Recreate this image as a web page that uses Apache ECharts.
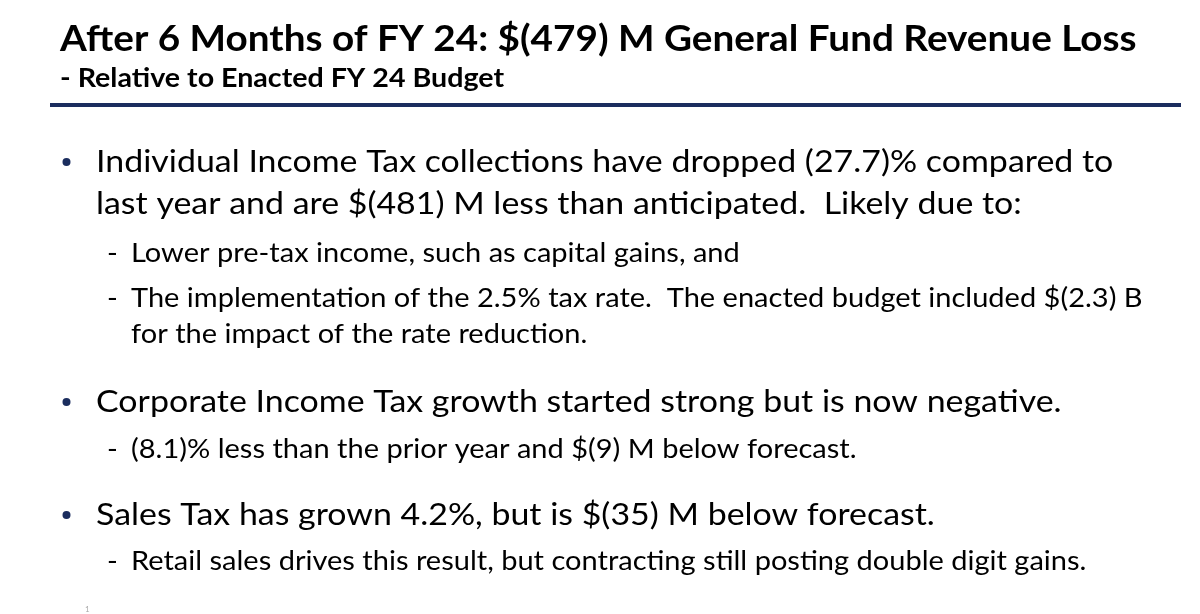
<!DOCTYPE html>
<html>
<head>
<meta charset="utf-8">
<script src="https://cdn.jsdelivr.net/npm/echarts@6/dist/echarts.min.js"></script>
<style>
html,body{margin:0;padding:0;background:#fff;}
#chart{width:1200px;height:614px;}
</style>
</head>
<body>
<div id="chart"></div>
<script>
// ---- content ----
const titleText = 'After 6 Months of FY 24: $(479) M General Fund Revenue Loss';
const subtitleText = '- Relative to Enacted FY 24 Budget';
const bullet1Lines = ['Individual Income Tax collections have dropped (27.7)% compared to', 'last year and are $(481) M less than anticipated.  Likely due to:'];
const bullet1Subs = [['Lower pre-tax income, such as capital gains, and'], ['The implementation of the 2.5% tax rate.  The enacted budget included $(2.3) B', 'for the impact of the rate reduction.']];
const bullet2Lines = ['Corporate Income Tax growth started strong but is now negative.'];
const bullet2Subs = [['(8.1)% less than the prior year and $(9) M below forecast.']];
const bullet3Lines = ['Sales Tax has grown 4.2%, but is $(35) M below forecast.'];
const bullet3Subs = [['Retail sales drives this result, but contracting still posting double digit gains.']];
const pageNumber = '1';

// ---- layout ----
const FONT = 'Lato';
const NAVY = '#1b2d5e';
const MAIN = { size: 31, sx: 1.094, weight: 'normal', dy: 3 };
const SUB = { size: 26.5, sx: 1.095, weight: 'normal', dy: 0.5 };
const TITLE = { size: 36.5, sx: 1.06, weight: 'bold', dy: 2 };
const SUBTITLE = { size: 26.5, sx: 1.08, weight: 'bold', dy: 1 };
const mainLead = 42, subLead = 36;
const graphic = [];

function txt(x, baseline, s, st, color) {
  graphic.push({
    type: 'text', x: x, y: baseline - st.size * 0.36 + (st.dy || 0), scaleX: st.sx, scaleY: 1,
    style: { text: s, font: st.weight + ' ' + st.size + 'px ' + FONT, fill: color || '#000', verticalAlign: 'middle', align: 'left' }
  });
}

txt(60, 50, titleText, TITLE);
txt(60, 87, subtitleText, SUBTITLE);
graphic.push({ type: 'rect', shape: { x: 50, y: 103, width: 1131, height: 4 }, style: { fill: NAVY } });

const blocks = [
  { lines: bullet1Lines, subs: bullet1Subs, base: 170, subBases: [262, 307] },
  { lines: bullet2Lines, subs: bullet2Subs, base: 410, subBases: [458] },
  { lines: bullet3Lines, subs: bullet3Subs, base: 523, subBases: [570] }
];
blocks.forEach(b => {
  graphic.push({ type: 'circle', shape: { cx: 66.5, cy: b.base - 8, r: 4 }, style: { fill: NAVY } });
  b.lines.forEach((l, i) => txt(96, b.base + i * mainLead, l, MAIN));
  b.subs.forEach((sub, j) => {
    txt(107, b.subBases[j], '-', SUB);
    sub.forEach((l, k) => txt(131, b.subBases[j] + k * subLead, l, SUB));
  });
});
txt(85, 612, pageNumber, { size: 8, sx: 1, weight: 'normal' }, '#aaa');

const chart = echarts.init(document.getElementById('chart'), null, { renderer: 'canvas' });
chart.setOption({ backgroundColor: '#fff', animation: false, graphic: graphic });
</script>
</body>
</html>
